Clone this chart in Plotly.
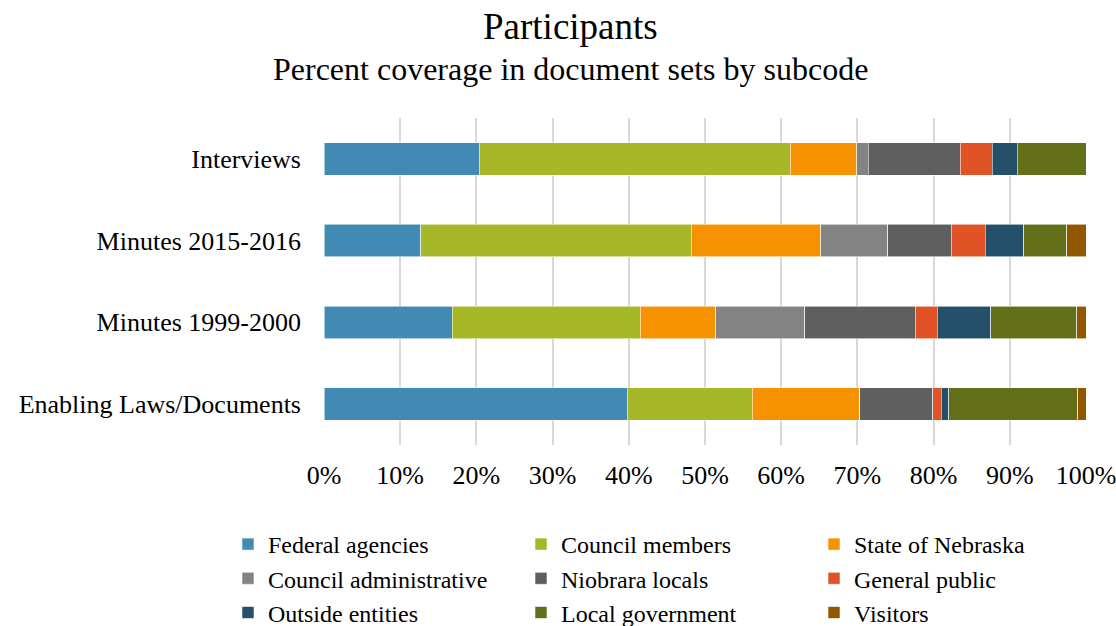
import plotly.graph_objects as go

# Document sets (top to bottom) and participant subcodes
documents = ["Interviews", "Minutes 2015-2016", "Minutes 1999-2000", "Enabling Laws/Documents"]

federal_agencies = [20.4, 12.7, 16.8, 39.8]
council_members = [40.8, 35.5, 24.7, 16.4]
state_of_nebraska = [8.7, 17.0, 9.9, 14.1]
council_administrative = [1.5, 8.8, 11.7, 0.0]
niobrara_locals = [12.1, 8.3, 14.5, 9.6]
general_public = [4.2, 4.5, 2.9, 1.1]
outside_entities = [3.3, 5.0, 7.0, 1.0]
local_government = [9.0, 5.7, 11.3, 16.9]
visitors = [0.0, 2.5, 1.2, 1.1]

x_ticks = list(range(0, 101, 10))

# (name, values, colour, legend column)
series = [
    ("Federal agencies", federal_agencies, "#418AB3", "legend"),
    ("Council members", council_members, "#A6B727", "legend2"),
    ("State of Nebraska", state_of_nebraska, "#F69200", "legend3"),
    ("Council administrative", council_administrative, "#838383", "legend"),
    ("Niobrara locals", niobrara_locals, "#5F5F5F", "legend2"),
    ("General public", general_public, "#DF5327", "legend3"),
    ("Outside entities", outside_entities, "#255069", "legend"),
    ("Local government", local_government, "#637019", "legend2"),
    ("Visitors", visitors, "#935700", "legend3"),
]

FONT = "Liberation Serif, Times New Roman, serif"

fig = go.Figure()
for name, vals, color, leg in series:
    fig.add_trace(go.Bar(
        name=name,
        y=documents,
        x=vals,
        orientation="h",
        legend=leg,
        marker=dict(color=color, line=dict(color="rgba(255,255,255,0.7)", width=0.8)),
        hovertemplate="%{y}<br>" + name + ": %{x:.1f}%<extra></extra>",
    ))


def legend_column(x_px):
    return dict(
        orientation="v",
        xref="container",
        yref="container",
        x=x_px / 1116,
        xanchor="left",
        y=1 - 522 / 626,
        yanchor="top",
        font=dict(size=24, family=FONT),
        traceorder="normal",
        itemclick=False,
        itemdoubleclick=False,
        tracegroupgap=0,
        bgcolor="rgba(0,0,0,0)",
    )


fig.update_layout(
    barmode="stack",
    bargap=0.6,
    width=1116,
    height=626,
    margin=dict(l=324, r=30, t=118, b=181, autoexpand=False),
    paper_bgcolor="white",
    plot_bgcolor="white",
    font=dict(family=FONT, color="#000000", size=26),
    xaxis=dict(
        range=[0, 100],
        tickvals=x_ticks,
        ticktext=[f"{v}%" for v in x_ticks],
        showgrid=True,
        gridcolor="#D9D9D9",
        gridwidth=2,
        zeroline=False,
        showline=False,
        ticks="",
        ticklabelstandoff=12,
        ticklabeloverflow="allow",
        tickfont=dict(size=26),
        fixedrange=True,
    ),
    yaxis=dict(
        categoryorder="array",
        categoryarray=documents,
        autorange="reversed",
        showgrid=False,
        zeroline=False,
        showline=False,
        ticks="",
        ticklabelstandoff=22,
        tickfont=dict(size=26),
        fixedrange=True,
    ),
    legend=legend_column(228),
    legend2=legend_column(521),
    legend3=legend_column(814),
    annotations=[
        dict(text="Participants", xref="paper", yref="paper",
             x=(570 - 324) / 761.5, y=1 + (118 - 27) / 327,
             xanchor="center", yanchor="middle", showarrow=False,
             font=dict(size=37, family=FONT)),
        dict(text="Percent coverage in document sets by subcode", xref="paper", yref="paper",
             x=(570 - 324) / 761.5, y=1 + (118 - 69) / 327,
             xanchor="center", yanchor="middle", showarrow=False,
             font=dict(size=32, family=FONT)),
    ],
    showlegend=True,
)

fig.write_html("out.html")
